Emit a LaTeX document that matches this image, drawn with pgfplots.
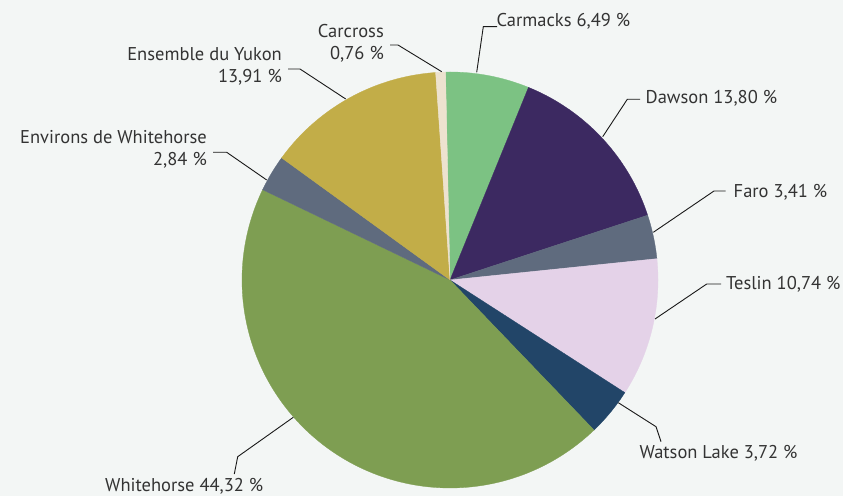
\documentclass[border=0pt]{standalone}
\usepackage{pgfplots}
\usepackage{pgfplotstable}
\pgfplotsset{compat=1.18}
\usepackage{fontspec}
\setmainfont{PT Sans}
\definecolor{bg}{HTML}{F3F6F5}
\definecolor{txt}{HTML}{333333}
\definecolor{cCarmacks}{HTML}{7CC283}
\definecolor{cDawson}{HTML}{3C2961}
\definecolor{cFaro}{HTML}{5F6B7E}
\definecolor{cTeslin}{HTML}{E4D2E8}
\definecolor{cWatson}{HTML}{224568}
\definecolor{cWhitehorse}{HTML}{7E9E52}
\definecolor{cEnvirons}{HTML}{5F6B7E}
\definecolor{cEnsemble}{HTML}{C2AD48}
\definecolor{cCarcross}{HTML}{EDE2CF}
\pgfplotstableread{
name value colour
Carmacks 6.49 cCarmacks
Dawson 13.80 cDawson
Faro 3.41 cFaro
Teslin 10.74 cTeslin
WatsonLake 3.72 cWatson
Whitehorse 44.32 cWhitehorse
Environs 2.84 cEnvirons
Ensemble 13.91 cEnsemble
Carcross 0.76 cCarcross
}\piedata
\def\startangle{91.2}
\tikzset{lbl/.style={font=\fontsize{18.5bp}{22bp}\selectfont, text=txt, inner sep=0pt}}
\begin{document}%
\def\pieplots{}%
\def\cum{0}%
\pgfplotstablegetrowsof{\piedata}%
\pgfmathtruncatemacro\lastrow{\pgfplotsretval-1}%
\pgfplotsforeachungrouped \i in {0,...,\lastrow}{%
  \pgfplotstablegetelem{\i}{value}\of\piedata \let\v\pgfplotsretval
  \pgfplotstablegetelem{\i}{colour}\of\piedata \let\c\pgfplotsretval
  \pgfmathsetmacro\angA{\startangle-3.6*\cum}%
  \pgfmathsetmacro\angB{\startangle-3.6*(\cum+\v)}%
  \pgfmathsetmacro\cum{\cum+\v}%
  \edef\pieplots{\unexpanded\expandafter{\pieplots}\noexpand\addplot[fill=\c,draw=\c,line width=0.3pt,domain=\angB:\angA,samples=120] ({450+208*cos(x)},{216+208*sin(x)}) -- (450,216) -- cycle;}%
}%
\begin{tikzpicture}
\begin{axis}[
  scale only axis, width=843bp, height=496bp,
  xmin=0, xmax=843, ymin=0, ymax=496,
  hide axis, clip=false,
  leader/.style={draw=black!90, line width=0.9bp, no marks},
]
\fill[bg] (rel axis cs:0,0) rectangle (rel axis cs:1,1);
\pieplots
% leader lines
\addplot[leader] coordinates {(441.7,424.3) (398,451) (390,451)};
\addplot[leader] coordinates {(345.7,397) (300,427) (288,427)};
\addplot[leader] coordinates {(266.7,316) (226.7,343.7) (213,343.7)};
\addplot[leader] coordinates {(476.7,423.7) (483.3,469.3) (497,469.3)};
\addplot[leader] coordinates {(602.7,359.3) (627.3,396.7) (640,396.7)};
\addplot[leader] coordinates {(653.3,263.7) (714,305) (725.7,305)};
\addplot[leader] coordinates {(655,177) (706.7,212) (721,212)};
\addplot[leader] coordinates {(618.3,93.3) (656,69.3) (661,54.3)};
\addplot[leader] coordinates {(293.3,78.7) (237.7,39.3) (234.3,22)};
% labels
\node[lbl, anchor=base east] at (axis cs:384,458.3) {Carcross};
\node[lbl, anchor=base east] at (axis cs:384,436) {0,76 \%};
\node[lbl, anchor=base east] at (axis cs:282,435) {Ensemble du Yukon};
\node[lbl, anchor=base east] at (axis cs:282,413.3) {13,91 \%};
\node[lbl, anchor=base east] at (axis cs:207,352.7) {Environs de Whitehorse};
\node[lbl, anchor=base east] at (axis cs:207,330) {2,84 \%};
\node[lbl, anchor=base west] at (axis cs:496.5,469.3) {Carmacks 6,49 \%};
\node[lbl, anchor=base west] at (axis cs:645.5,392) {Dawson 13,80 \%};
\node[lbl, anchor=base west] at (axis cs:733.5,298) {Faro 3,41 \%};
\node[lbl, anchor=base west] at (axis cs:726,206) {Teslin 10,74 \%};
\node[lbl, anchor=base west] at (axis cs:639.5,37) {Watson Lake 3,72 \%};
\node[lbl, anchor=base west] at (axis cs:105,5) {Whitehorse 44,32 \%};
\end{axis}
\end{tikzpicture}
\end{document}
